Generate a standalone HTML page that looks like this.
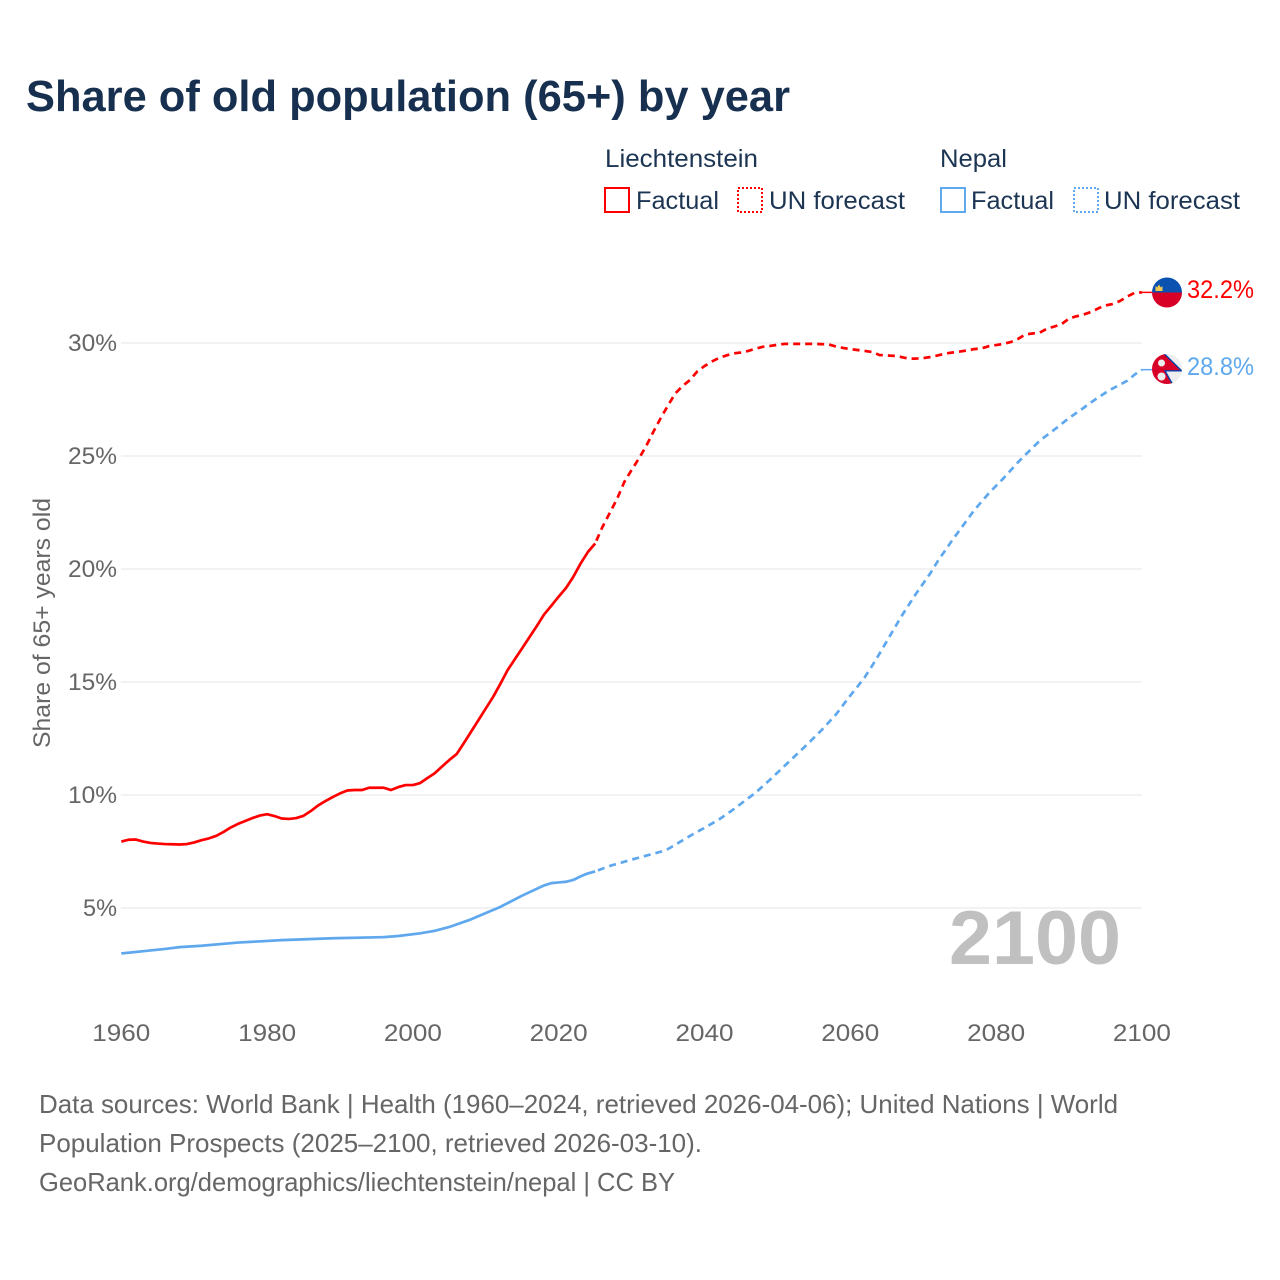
<!DOCTYPE html>
<html lang="en">
<head>
<meta charset="utf-8">
<title>Share of old population (65+) by year</title>
<style>
html,body{margin:0;padding:0;background:#fff;}
svg{display:block;font-family:"Liberation Sans",sans-serif;}
</style>
</head>
<body>
<svg id="chart" xmlns="http://www.w3.org/2000/svg" width="1280" height="1280" viewBox="0 0 1280 1280">
  <rect x="0" y="0" width="1280" height="1280" fill="#fff"/>
  <text x="26" y="111" font-size="44" font-weight="700" fill="#17304f" textLength="764" lengthAdjust="spacingAndGlyphs">Share of old population (65+) by year</text>

  <g font-size="25" fill="#1c3553">
    <text x="605" y="167" textLength="153" lengthAdjust="spacingAndGlyphs">Liechtenstein</text>
    <text x="940" y="167" textLength="67" lengthAdjust="spacingAndGlyphs">Nepal</text>
    <rect x="605" y="188" width="24" height="24" fill="none" stroke="#ff0000" stroke-width="2"/>
    <text x="636" y="209" textLength="83" lengthAdjust="spacingAndGlyphs">Factual</text>
    <rect x="738" y="188" width="24" height="24" fill="none" stroke="#ff0000" stroke-width="2" stroke-dasharray="2 2"/>
    <text x="769" y="209" textLength="136" lengthAdjust="spacingAndGlyphs">UN forecast</text>
    <rect x="941" y="188" width="24" height="24" fill="none" stroke="#5fa8ee" stroke-width="2"/>
    <text x="971" y="209" textLength="83" lengthAdjust="spacingAndGlyphs">Factual</text>
    <rect x="1074" y="188" width="24" height="24" fill="none" stroke="#5fa8ee" stroke-width="2" stroke-dasharray="2 2"/>
    <text x="1104" y="209" textLength="136" lengthAdjust="spacingAndGlyphs">UN forecast</text>
  </g>

  <g id="grid"></g>
  <g id="yticks" font-size="24" fill="#666"></g>
  <g id="xticks" font-size="24" fill="#666"></g>
  <text transform="translate(50,748) rotate(-90)" font-size="24" fill="#666" textLength="250" lengthAdjust="spacingAndGlyphs">Share of 65+ years old</text>
  <text x="949" y="964" font-size="76" font-weight="700" fill="#c0c0c0" textLength="172" lengthAdjust="spacingAndGlyphs">2100</text>

  <g id="series"></g>

  <defs>
    <clipPath id="clip-li"><circle cx="1167" cy="292.5" r="15"/></clipPath>
    <clipPath id="clip-np"><circle cx="1167" cy="369" r="15"/></clipPath>
  </defs>
  <g clip-path="url(#clip-li)">
    <rect x="1150" y="276" width="34" height="17" fill="#0b52b0"/>
    <rect x="1150" y="292.5" width="34" height="17" fill="#d80027"/>
    <path d="M1155.500 291v-5l1.700 1.500 1.800-3 1.800 3 1.700-1.500v5z" fill="#f0c94f"/>
  </g>
  <g clip-path="url(#clip-np)">
    <rect x="1150" y="352" width="34" height="34" fill="#eeeeee"/>
    <polygon points="1148,352.500 1163,352.500 1181.500,370.800 1165,370.800 1173.500,386 1148,386" fill="#d80027" stroke="#0b3fa8" stroke-width="1.400"/>
    <circle cx="1161.500" cy="363" r="3.500" fill="#eeeeee"/>
    <circle cx="1161.500" cy="376.500" r="4" fill="#eeeeee"/>
  </g>

  <text id="label-li" x="1187" y="298" font-size="25" fill="#ff0000" textLength="67" lengthAdjust="spacingAndGlyphs"></text>
  <text id="label-np" x="1187" y="375" font-size="25" fill="#5fa8ee" textLength="67" lengthAdjust="spacingAndGlyphs"></text>

  <g font-size="26" fill="#666">
    <text x="39" y="1113" textLength="1079" lengthAdjust="spacingAndGlyphs">Data sources: World Bank | Health (1960–2024, retrieved 2026-04-06); United Nations | World</text>
    <text x="39" y="1152" textLength="663" lengthAdjust="spacingAndGlyphs">Population Prospects (2025–2100, retrieved 2026-03-10).</text>
    <text x="39" y="1191" textLength="636" lengthAdjust="spacingAndGlyphs">GeoRank.org/demographics/liechtenstein/nepal | CC BY</text>
  </g>
</svg>
<script>
const yTickValues = [5, 10, 15, 20, 25, 30];
const yTickLabels = ["5%", "10%", "15%", "20%", "25%", "30%"];
const xTickValues = [1960, 1980, 2000, 2020, 2040, 2060, 2080, 2100];
const xTickLabels = ["1960", "1980", "2000", "2020", "2040", "2060", "2080", "2100"];

const liechtensteinFactualStart = 1960;
const liechtensteinFactual = [7.94,8.02,8.03,7.94,7.88,7.85,7.83,7.82,7.81,7.83,7.90,8.00,8.08,8.19,8.36,8.56,8.72,8.85,8.98,9.09,9.15,9.07,8.96,8.94,8.98,9.08,9.29,9.54,9.73,9.91,10.07,10.20,10.22,10.22,10.32,10.32,10.32,10.22,10.35,10.44,10.44,10.53,10.75,10.96,11.26,11.55,11.81,12.30,12.81,13.32,13.83,14.34,14.92,15.53,16.02,16.50,16.99,17.48,17.99,18.38,18.78,19.16,19.65,20.24,20.75,21.13];
const liechtensteinForecastStart = 2025;
const liechtensteinForecast = [21.13,21.86,22.48,23.1,23.85,24.38,24.89,25.44,26.08,26.68,27.24,27.77,28.10,28.36,28.74,28.98,29.18,29.34,29.45,29.54,29.58,29.65,29.75,29.83,29.87,29.92,29.96,29.96,29.96,29.96,29.96,29.95,29.94,29.85,29.78,29.73,29.69,29.65,29.6,29.47,29.45,29.43,29.38,29.31,29.31,29.33,29.38,29.45,29.53,29.58,29.62,29.67,29.73,29.76,29.86,29.91,29.96,30.04,30.18,30.38,30.42,30.46,30.64,30.73,30.84,31.08,31.18,31.26,31.37,31.53,31.66,31.73,31.86,32.06,32.22,32.24];

const nepalFactualYears = [1960,1963,1966,1968,1971,1976,1982,1989,1996,1998,2001,2003,2005,2008,2009,2012,2015,2018,2019,2020,2021,2022,2023,2024,2025];
const nepalFactual = [2.99,3.09,3.19,3.27,3.33,3.47,3.58,3.66,3.71,3.76,3.88,3.99,4.16,4.50,4.64,5.05,5.55,6.00,6.10,6.13,6.16,6.24,6.40,6.53,6.62];
const nepalForecastYears = [2025,2027,2030,2034,2035,2036,2038,2040,2042,2044,2047,2049,2052,2054,2056,2058,2060,2061,2062,2063,2064,2065,2067,2069,2071,2072,2074,2077,2079,2081,2083,2084,2086,2088,2090,2092,2093,2095,2096,2098,2099,2100];
const nepalForecast = [6.62,6.86,7.14,7.49,7.61,7.8,8.19,8.55,8.92,9.37,10.10,10.68,11.6,12.21,12.85,13.55,14.4,14.8,15.22,15.72,16.25,16.8,17.9,18.9,19.82,20.35,21.28,22.6,23.35,24.01,24.72,25.05,25.68,26.17,26.68,27.13,27.37,27.8,27.99,28.33,28.6,28.82];

const finalLabelLiechtenstein = "32.2%";
const finalLabelNepal = "28.8%";

const SVGNS = "http://www.w3.org/2000/svg";
const RED = "#ff0000";
const BLUE = "#5fa8ee";
function xScale(year) { return 121.3 + (year - 1960) * 7.29; }
function yScale(value) { return 908 - (value - 5) * 22.6; }
function makeYears(start, values) { return values.map(function (v, i) { return start + i; }); }
function linePath(years, values) {
  return years.map(function (yr, i) {
    return (i ? "L" : "M") + xScale(yr).toFixed(2) + " " + yScale(values[i]).toFixed(2);
  }).join("");
}
function addText(parent, label, x, y, anchor, width) {
  const t = document.createElementNS(SVGNS, "text");
  t.setAttribute("x", x);
  t.setAttribute("y", y);
  t.setAttribute("text-anchor", anchor);
  t.setAttribute("textLength", width);
  t.setAttribute("lengthAdjust", "spacingAndGlyphs");
  t.textContent = label;
  parent.appendChild(t);
  return t;
}
function addSeries(years, values, color, dashed) {
  const p = document.createElementNS(SVGNS, "path");
  p.setAttribute("d", linePath(years, values));
  p.setAttribute("fill", "none");
  p.setAttribute("stroke", color);
  p.setAttribute("stroke-width", "2.7");
  p.setAttribute("stroke-linejoin", "round");
  if (dashed) {
    p.setAttribute("stroke-dasharray", "7 5");
    p.setAttribute("stroke-dashoffset", "9");
  }
  document.getElementById("series").appendChild(p);
  return p;
}
function addConnector(value, color) {
  const l = document.createElementNS(SVGNS, "line");
  l.setAttribute("x1", xScale(2100));
  l.setAttribute("x2", 1153);
  l.setAttribute("y1", yScale(value));
  l.setAttribute("y2", yScale(value));
  l.setAttribute("stroke", color);
  l.setAttribute("stroke-width", "1.5");
  document.getElementById("series").appendChild(l);
  return l;
}

const gridGroup = document.getElementById("grid");
const yGroup = document.getElementById("yticks");
const xGroup = document.getElementById("xticks");

yTickValues.forEach(function (v, i) {
  const g = document.createElementNS(SVGNS, "line");
  g.setAttribute("x1", 121);
  g.setAttribute("x2", 1142);
  g.setAttribute("y1", yScale(v));
  g.setAttribute("y2", yScale(v));
  g.setAttribute("stroke", "#eeeeee");
  g.setAttribute("stroke-width", "1.5");
  
  
  gridGroup.appendChild(g);
  const t = addText(yGroup, yTickLabels[i], 117, yScale(v) + 8, "end", yTickLabels[i].length === 2 ? 34 : 49);
  
  
});

xTickValues.forEach(function (v, i) {
  const t = addText(xGroup, xTickLabels[i], xScale(v), 1041, "middle", 58);
  
  
});

const lineA = addSeries(makeYears(liechtensteinFactualStart, liechtensteinFactual), liechtensteinFactual, RED, false);


const lineB = addSeries(makeYears(liechtensteinForecastStart, liechtensteinForecast), liechtensteinForecast, RED, true);


const lineC = addSeries(nepalFactualYears, nepalFactual, BLUE, false);


const lineD = addSeries(nepalForecastYears, nepalForecast, BLUE, true);



const connA = addConnector(liechtensteinForecast[liechtensteinForecast.length - 1], RED);


const connB = addConnector(nepalForecast[nepalForecast.length - 1], BLUE);



document.getElementById("label-li").textContent = finalLabelLiechtenstein;
document.getElementById("label-np").textContent = finalLabelNepal;
</script>
</body>
</html>
